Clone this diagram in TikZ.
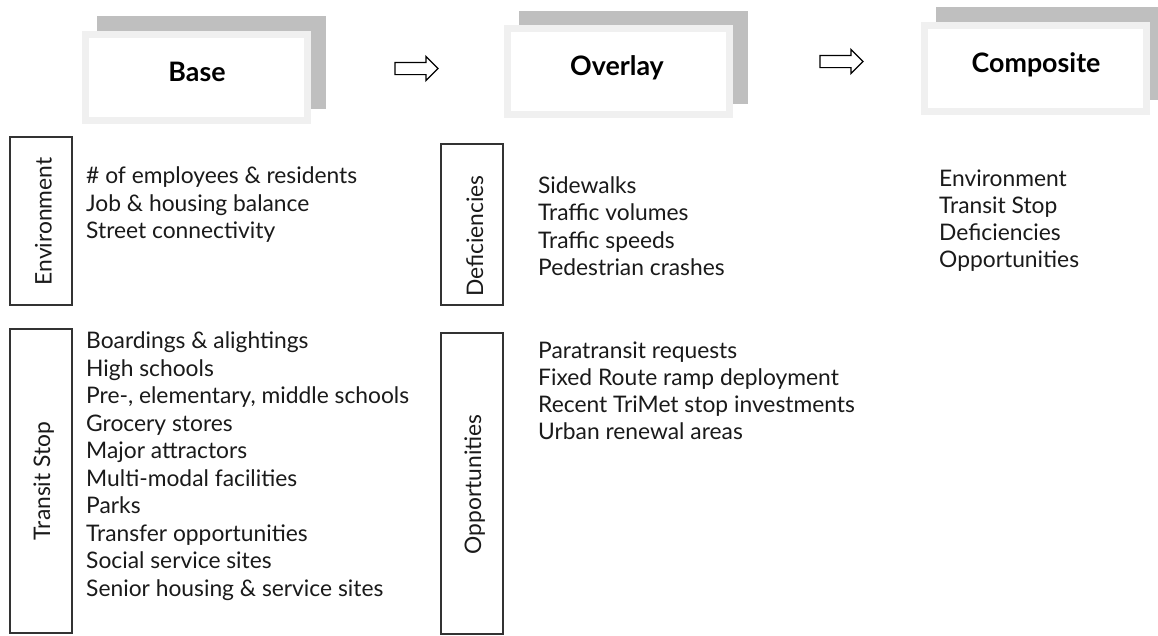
\documentclass[tikz,border=0pt]{standalone}
\usepackage{fontspec}
\setmainfont{Lato}
\usetikzlibrary{shapes.arrows}
\definecolor{backGray}{HTML}{BFBFBF}
\definecolor{frameGray}{HTML}{F0F0F0}
\definecolor{lineDark}{HTML}{333333}
\definecolor{txt}{HTML}{1A1A1A}
\tikzset{
  shadowbox/.style={fill=backGray, draw=none, inner sep=0pt, minimum width=229pt, minimum height=93pt},
  headbox/.style={fill=white, draw=frameGray, line width=7pt, inner sep=0pt, minimum width=222pt, minimum height=86pt},
  headtext/.style={font=\fontsize{26.8}{30}\selectfont\bfseries, text=black, inner sep=0pt, anchor=base},
  sidebox/.style={draw=lineDark, line width=1.5pt, inner sep=0pt, minimum width=62pt},
  sidelabel/.style={font=\fontsize{22.8}{27}\selectfont, text=txt, inner sep=0pt, rotate=90, anchor=base},
  item/.style={font=\fontsize{22.8}{27}\selectfont, text=txt, inner sep=0pt, anchor=base west},
  blockarrow/.style={single arrow, draw=black, fill=white, line width=1.2pt, inner sep=0pt,
    minimum height=43pt, single arrow head extend=6pt, single arrow head indent=0pt}
}
\begin{document}
\begin{tikzpicture}[x=1pt,y=-1pt]
\clip (0,0) rectangle (1158,635);
\fill[white] (0,0) rectangle (1158,635);

% header boxes
\node[shadowbox] (baseShadow) at (211.5,62.5) {};
\node[headbox] (baseBox) at (196.5,77.5) {};
\node[headtext] (base) at (197,81) {Base};

\node[shadowbox] (overShadow) at (633,57.5) {};
\node[headbox] (overBox) at (618.5,71.5) {};
\node[headtext] (overlay) at (617,75) {Overlay};

\node[shadowbox] (compShadow) at (1050.5,53) {};
\node[headbox] (compBox) at (1035.5,68) {};
\node[headtext] (composite) at (1036,72) {Composite};

% block arrows
\node[blockarrow] (arrowA) at (413.5,68.5) {\rule{0pt}{11pt}};
\node[blockarrow] (arrowB) at (838.5,61.5) {\rule{0pt}{11pt}};

% side boxes
\node[sidebox, minimum height=168pt] (envBox) at (41,221) {};
\node[sidelabel] (envLab) at (51.5,221.5) {Environment};
\node[sidebox, minimum height=304pt] (tsBox) at (41,481) {};
\node[sidelabel] (tsLab) at (50,481) {Transit Stop};
\node[sidebox, minimum height=161pt] (defBox) at (472,224.5) {};
\node[sidelabel] (defLab) at (483,236) {Deficiencies};
\node[sidebox, minimum height=301pt] (oppBox) at (472,483.5) {};
\node[sidelabel] (oppLab) at (481,484.5) {Opportunities};

% lists
\foreach \t [count=\i from 0] in {{\# of employees \& residents},{Job \& housing balance},{Street connectivity}}
  \node[item] (env\i) at (86,183.5+27.5*\i) {\t};
\foreach \t [count=\i from 0] in {{Boardings \& alightings},{High schools},{Pre-, elementary, middle schools},{Grocery stores},{Major attractors},{Multi-modal facilities},{Parks},{Transfer opportunities},{Social service sites},{Senior housing \& service sites}}
  \node[item] (ts\i) at (86,348.5+27.5*\i) {\t};
\foreach \t [count=\i from 0] in {{Sidewalks},{Traffic volumes},{Traffic speeds},{Pedestrian crashes}}
  \node[item] (def\i) at (538,193.5+27.4*\i) {\t};
\foreach \t [count=\i from 0] in {{Paratransit requests},{Fixed Route ramp deployment},{Recent TriMet stop investments},{Urban renewal areas}}
  \node[item] (opp\i) at (538,358.5+27*\i) {\t};
\foreach \t [count=\i from 0] in {{Environment},{Transit Stop},{Deficiencies},{Opportunities}}
  \node[item] (comp\i) at (939,186.5+27*\i) {\t};
\end{tikzpicture}
\end{document}
